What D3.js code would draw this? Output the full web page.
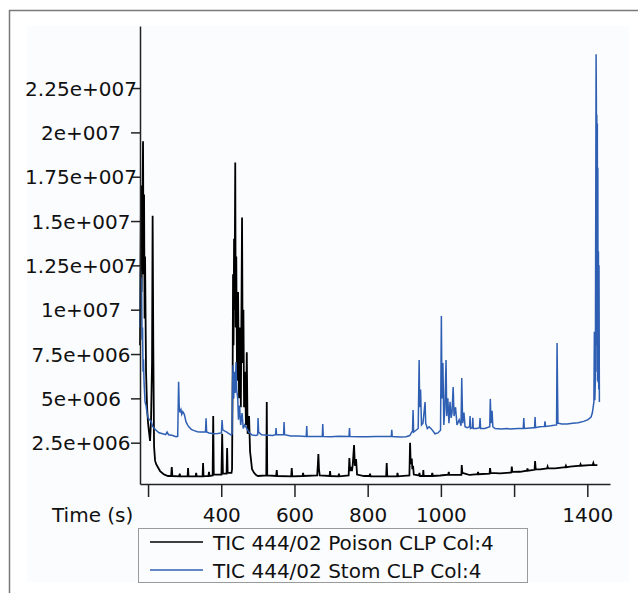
<!DOCTYPE html>
<html lang="en">
    <head>
        <meta charset="utf-8" />
        <script src="https://cdn.jsdelivr.net/npm/d3@7/dist/d3.min.js"></script>
        <style>
            body { margin: 0; background: #fff; }
            text { font: 20px "DejaVu Sans", Verdana, sans-serif; fill: #111; }
        </style>
    </head>
    <body>
        <script>
            // values in millions of counts, time in seconds
            var poison = [
                [178.1, 8.0], [180.9, 17.0], [182.3, 11.0], [184.2, 14.5], [186.3, 19.5], [187.6, 12.0],
                [189.1, 16.5], [190.5, 9.5], [191.8, 13.0], [194.5, 6.5], [197.3, 4.5], [200.0, 3.6],
                [202.7, 3.1], [205.5, 2.6], [208.2, 3.8], [210.9, 7.0], [212.5, 15.3], [214.3, 8.0],
                [216.4, 2.3], [219.1, 1.5], [221.9, 1.3], [227.3, 1.1], [232.8, 0.9], [241.0, 0.75],
                [246.4, 0.68], [254.6, 0.62], [263.0, 0.62], [264.8, 1.13], [266.5, 0.62], [285.0, 0.6],
                [286.5, 0.75], [288.0, 0.6], [308.0, 0.6], [309.3, 1.07], [310.6, 0.6], [330.0, 0.6],
                [331.5, 0.8], [333.0, 0.6], [349.0, 0.6], [350.3, 1.35], [351.6, 0.6], [365.0, 0.62],
                [366.5, 0.85], [368.0, 0.62], [376.5, 0.65], [378.0, 4.0], [379.5, 0.7], [400.5, 0.7],
                [402.5, 3.0], [404.5, 0.75], [414.5, 0.75], [416.0, 2.2], [417.5, 0.8], [428.0, 0.8],
                [429.5, 1.0], [431.0, 6.0], [432.2, 12.0], [433.5, 8.0], [435.0, 14.0], [436.3, 10.0],
                [438.2, 18.3], [439.5, 9.0], [441.0, 13.0], [443.2, 6.0], [445.9, 11.0], [448.6, 5.0],
                [451.3, 9.0], [453.5, 4.5], [456.8, 15.2], [458.5, 7.0], [460.5, 10.0], [462.3, 4.5],
                [465.0, 6.5], [467.5, 3.5], [469.7, 7.6], [472.0, 3.0], [475.9, 4.0], [478.7, 2.0],
                [481.4, 1.5], [484.1, 1.0], [489.6, 0.8], [495.0, 0.68], [500.5, 0.62], [523.0, 0.65],
                [524.3, 4.8], [525.6, 0.65], [550.0, 0.62], [551.6, 0.96], [553.0, 0.62], [591.0, 0.6],
                [592.6, 1.07], [594.0, 0.6], [622.0, 0.62], [623.5, 0.79], [625.0, 0.62], [662.0, 0.65],
                [664.0, 1.3], [665.3, 1.86], [667.0, 1.0], [669.0, 0.65], [696.0, 0.62], [697.3, 0.9],
                [698.6, 0.62], [720.0, 0.6], [721.5, 0.75], [723.0, 0.6], [748.0, 0.65], [750.0, 1.64],
                [752.0, 0.9], [754.6, 1.13], [757.0, 0.9], [759.0, 1.2], [762.8, 2.37], [765.0, 1.2],
                [768.3, 1.58], [771.0, 0.7], [790.0, 0.62], [805.0, 0.62], [806.5, 0.75], [808.0, 0.6],
                [850.5, 0.6], [852.0, 1.35], [853.5, 0.6], [880.0, 0.6], [881.5, 0.8], [883.0, 0.6],
                [914.0, 0.65], [915.8, 2.5], [917.5, 1.3], [920.5, 1.6], [922.0, 1.0], [924.0, 1.2],
                [926.0, 0.7], [940.0, 0.65], [941.5, 0.8], [943.0, 0.62], [951.0, 0.62], [952.0, 0.96],
                [953.0, 0.62], [975.0, 0.62], [976.5, 0.8], [978.0, 0.62], [998.0, 0.65], [1020.0, 0.7],
                [1021.5, 0.85], [1023.0, 0.68], [1056.0, 0.68], [1057.0, 1.24], [1058.5, 0.8], [1075.0, 0.7],
                [1080.0, 0.68], [1100.0, 0.72], [1101.5, 0.85], [1103.0, 0.72], [1133.0, 0.75], [1134.3, 1.07],
                [1136.0, 0.8], [1161.7, 0.77], [1192.5, 0.82], [1193.7, 1.15], [1195.0, 0.85], [1216.0, 0.86],
                [1235.0, 0.92], [1236.5, 1.05], [1238.0, 0.92], [1256.0, 0.97], [1257.3, 1.47], [1259.0, 1.0],
                [1271.0, 1.0], [1290.0, 1.05], [1291.5, 1.15], [1293.0, 1.05], [1312.0, 1.05], [1340.0, 1.12],
                [1341.5, 1.2], [1343.0, 1.12], [1353.0, 1.15], [1380.0, 1.2], [1381.5, 1.28], [1383.0, 1.2],
                [1407.0, 1.24], [1415.0, 1.25], [1416.5, 1.35], [1418.0, 1.25], [1427.5, 1.24]
            ];

            var stom = [
                [178.1, 9.0], [179.5, 12.2], [181.0, 10.5], [182.3, 11.8], [183.6, 8.3], [185.0, 9.0],
                [186.3, 6.5], [187.5, 7.2], [189.1, 5.9], [191.8, 4.8], [194.5, 4.6], [197.3, 4.2],
                [200.0, 3.9], [204.0, 3.8], [208.2, 3.7], [213.0, 3.4], [221.9, 3.2], [230.0, 3.06],
                [240.0, 3.0], [248.0, 2.95], [252.0, 3.1], [256.0, 2.95], [265.0, 2.92], [276.5, 2.84],
                [281.0, 2.86], [283.5, 5.94], [285.0, 4.6], [287.0, 4.2], [290.0, 4.35], [292.0, 4.1],
                [295.0, 4.25], [299.0, 4.1], [303.8, 3.67], [308.0, 3.5], [312.0, 3.38], [318.0, 3.25],
                [325.7, 3.18], [335.0, 3.12], [342.1, 3.1], [350.3, 3.1], [357.0, 3.1], [358.5, 3.87],
                [360.0, 3.1], [366.7, 3.05], [380.0, 3.0], [390.0, 3.02], [400.5, 3.05], [402.2, 3.78],
                [404.0, 3.22], [410.0, 3.15], [415.0, 3.1], [426.8, 2.93], [429.5, 3.0], [431.0, 6.0],
                [432.2, 6.88], [434.0, 5.0], [436.0, 6.5], [438.0, 5.3], [440.4, 7.05], [442.0, 5.5],
                [445.0, 5.0], [447.0, 3.8], [450.0, 4.6], [453.0, 3.5], [456.8, 4.17], [460.0, 3.3],
                [464.0, 3.5], [467.7, 3.38], [475.0, 3.1], [484.0, 2.93], [495.0, 2.9], [499.5, 2.95],
                [500.5, 3.89], [502.0, 3.1], [510.0, 2.95], [540.0, 2.9], [548.5, 2.95], [549.7, 3.33],
                [551.0, 2.95], [570.3, 2.95], [571.6, 3.67], [573.0, 2.95], [590.0, 2.88], [610.0, 2.88],
                [632.2, 2.85], [633.5, 3.44], [634.8, 2.85], [655.0, 2.85], [676.0, 2.85], [677.3, 3.55],
                [678.6, 2.85], [700.0, 2.84], [720.0, 2.86], [749.0, 2.85], [750.3, 3.33], [751.6, 2.85],
                [780.0, 2.84], [800.0, 2.84], [820.0, 2.85], [864.5, 2.85], [865.8, 3.22], [867.1, 2.85],
                [890.0, 2.82], [905.0, 2.84], [915.0, 2.9], [921.0, 3.12], [922.5, 3.12], [924.0, 4.34],
                [925.5, 3.1], [932.0, 3.2], [938.0, 3.3], [940.6, 7.16], [942.0, 4.5], [944.5, 5.5],
                [947.0, 3.5], [951.0, 3.6], [956.8, 4.79], [958.5, 3.6], [963.0, 3.3], [968.0, 3.4],
                [975.0, 3.25], [984.0, 3.0], [992.0, 3.05], [999.0, 3.2], [1001.3, 9.65], [1003.0, 5.0],
                [1005.5, 7.0], [1008.0, 3.5], [1011.0, 4.5], [1014.1, 7.16], [1016.0, 4.0], [1019.0, 5.0],
                [1022.0, 3.6], [1025.0, 4.8], [1028.0, 3.9], [1030.5, 4.2], [1033.5, 5.64], [1036.0, 4.0],
                [1040.0, 4.5], [1044.0, 3.5], [1050.0, 3.8], [1055.0, 3.45], [1057.0, 6.15], [1059.5, 3.6],
                [1063.0, 4.2], [1066.0, 3.4], [1072.0, 3.35], [1078.5, 3.4], [1079.7, 4.0], [1081.0, 3.3],
                [1086.0, 3.35], [1087.2, 3.9], [1088.5, 3.3], [1098.0, 3.3], [1105.5, 3.35], [1107.0, 3.89],
                [1108.5, 3.3], [1120.0, 3.3], [1133.5, 3.4], [1135.0, 4.97], [1137.0, 3.6], [1139.8, 4.3],
                [1142.0, 3.4], [1148.0, 3.3], [1165.0, 3.27], [1180.0, 3.3], [1190.0, 3.27], [1210.0, 3.3],
                [1225.0, 3.3], [1226.5, 3.89], [1228.0, 3.3], [1245.0, 3.33], [1256.0, 3.35], [1257.3, 3.95],
                [1258.6, 3.35], [1270.0, 3.4], [1283.0, 3.42], [1284.4, 3.7], [1285.8, 3.42], [1300.0, 3.45],
                [1316.0, 3.5], [1317.4, 8.12], [1318.5, 5.8], [1319.8, 3.6], [1330.0, 3.55], [1345.0, 3.55],
                [1360.0, 3.6], [1375.0, 3.62], [1390.0, 3.7], [1402.0, 3.8], [1410.3, 3.95], [1414.0, 4.2],
                [1418.0, 4.8], [1419.3, 8.76], [1420.6, 4.9], [1422.0, 6.0], [1424.0, 24.4], [1424.8, 21.7],
                [1425.4, 8.0], [1426.0, 21.0], [1426.7, 6.5], [1427.4, 20.5], [1428.0, 6.0], [1428.8, 18.0],
                [1429.5, 5.9], [1430.4, 13.3], [1431.2, 5.5], [1432.0, 12.5], [1433.0, 4.8]
            ];

            var yTicks = [2.5e6, 5e6, 7.5e6, 1e7, 1.25e7, 1.5e7, 1.75e7, 2e7, 2.25e7];
            var yTickLabels = ["2.5e+006", "5e+006", "7.5e+006", "1e+007", "1.25e+007", "1.5e+007", "1.75e+007", "2e+007", "2.25e+007"];
            var xTicks = [200, 400, 600, 800, 1000, 1200, 1400];
            var xTickLabels = ["", "400", "600", "800", "1000", "", "1400"];
            var seriesNames = ["TIC 444/02 Poison CLP Col:4", "TIC 444/02 Stom CLP Col:4"];
            var seriesColors = ["#000000", "#2f5fb3"];
            var seriesWidths = [1.8, 1.5];

            var width = 638,
                height = 593;

            var svg = d3.select("body").append("svg")
                .attr("width", width)
                .attr("height", height);

            // outer frame (runs off the right and bottom edge)
            svg.append("rect")
                .attr("x", 9.5).attr("y", 10.5)
                .attr("width", 700).attr("height", 700)
                .attr("fill", "#fff")
                .attr("stroke", "#7a7a7a")
                .attr("stroke-width", 1.5);

            svg.append("rect")
                .attr("x", 27).attr("y", 26)
                .attr("width", 602).attr("height", 556)
                .attr("fill", "#fbfcfe");

            var x = d3.scaleLinear().domain([178, 1462]).range([140, 610]);
            var y = d3.scaleLinear().domain([1.7e5, 2.6e7]).range([484, 26]);

            var line = d3.line()
                .x(function (d) { return x(d[0]); })
                .y(function (d) { return y(d[1] * 1e6); });

            [poison, stom].forEach(function (s, i) {
                svg.append("path")
                    .datum(s)
                    .attr("fill", "none")
                    .attr("stroke", seriesColors[i])
                    .attr("stroke-width", seriesWidths[i])
                    .attr("d", line);
            });

            var yAxis = svg.append("g")
                .attr("transform", "translate(140,0)")
                .call(d3.axisLeft(y)
                    .tickValues(yTicks)
                    .tickSize(9)
                    .tickSizeOuter(0)
                    .tickFormat(function (d, i) { return yTickLabels[i]; }));

            var xAxis = svg.append("g")
                .attr("transform", "translate(0,484)")
                .call(d3.axisBottom(x)
                    .tickValues(xTicks)
                    .tickSize(13)
                    .tickSizeOuter(0)
                    .tickFormat(function (d, i) { return xTickLabels[i]; }));

            [yAxis, xAxis].forEach(function (g) {
                g.selectAll("path, line").attr("stroke", "#222").attr("stroke-width", 1.5);
                g.attr("font-family", null).attr("font-size", null);
            });

            yAxis.selectAll("text")
                .attr("text-anchor", "middle")
                .attr("x", -59)
                .attr("dy", "0.36em");

            xAxis.selectAll("text")
                .attr("y", 38)
                .attr("dy", 0);

            svg.append("text")
                .attr("x", 52).attr("y", 522)
                .text("Time (s)");

            // legend
            var legend = svg.append("g");
            legend.append("rect")
                .attr("x", 138.5).attr("y", 528.5)
                .attr("width", 389).attr("height", 54)
                .attr("fill", "#fbfcfe")
                .attr("stroke", "#9a9a9a");

            seriesNames.forEach(function (name, i) {
                var ly = 542 + i * 28;
                legend.append("line")
                    .attr("x1", 150).attr("x2", 203)
                    .attr("y1", ly).attr("y2", ly)
                    .attr("stroke", seriesColors[i])
                    .attr("stroke-width", 1.4);
                legend.append("text")
                    .attr("x", 213).attr("y", ly + 8)
                    .text(name);
            });
        </script>
    </body>
</html>
